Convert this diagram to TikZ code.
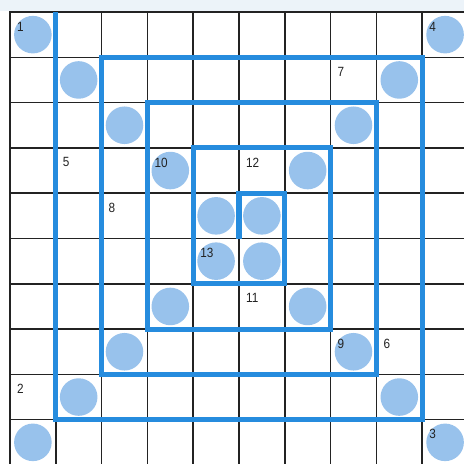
\documentclass[tikz,border=0pt]{standalone}
\usepackage{fontspec}
\setmainfont{Liberation Sans}
\definecolor{spiralblue}{RGB}{38,140,222}
\definecolor{dotblue}{RGB}{152,194,236}
\definecolor{gridgrey}{RGB}{35,35,35}
\definecolor{topstrip}{RGB}{236,243,249}
\begin{document}
\begin{tikzpicture}[x=1cm,y=-0.98908cm,
  gridline/.style={draw=gridgrey,line width=0.9pt},
  spiral/.style={draw=spiralblue,line width=3.2pt,line join=miter,line cap=butt},
  dot/.style={circle,fill=dotblue,minimum size=0.82cm,inner sep=0pt},
  num/.style={anchor=north west,inner sep=0pt,font=\fontsize{8.3}{9}\selectfont,text=gridgrey,xscale=0.88}]
\useasboundingbox (-0.218,-0.265) rectangle (9.913,9.978);
\fill[white] (-0.218,-0.265) rectangle (9.913,9.978);
\fill[topstrip] (-0.218,-0.265) rectangle (9.913,-0.02);
\begin{scope}
\clip (-0.218,-0.265) rectangle (9.913,9.978);
\foreach \i in {0,...,10} {
  \draw[gridline] (\i,0) -- (\i,10.2);
  \draw[gridline] (0,\i) -- (10.2,\i);
}
\draw[gridline,line width=1.2pt] (0,10.2) -- (0,0) -- (10.2,0);
\end{scope}
% circles
\foreach \c/\r [count=\k] in {0/0,9/0,1/1,8/1,2/2,7/2,3/3,6/3,4/4,5/4,4/5,5/5,3/6,6/6,2/7,7/7,1/8,8/8,0/9,9/9}
  \node[dot] (d\k) at (\c+0.5,\r+0.5) {};
% spiral
\coordinate (s0) at (1,0);
\coordinate (s1) at (5,5);
\draw[spiral] (s0) -- (1,9) -- (9,9) -- (9,1) -- (2,1) -- (2,8) -- (8,8) -- (8,2)
  -- (3,2) -- (3,7) -- (7,7) -- (7,3) -- (4,3) -- (4,6) -- (6,6) -- (6,4) -- (5,4) -- (s1);
% labels
\foreach \c/\r/\t in {0/0/1,0/8/2,9/9/3,9/0/4,1/3/5,8/7/6,7/1/7,2/4/8,7/7/9,3/3/10,5/6/11,5/3/12,4/5/13}
  \node[num] (n\t) at (\c+0.15,\r+0.21) {\t};
\end{tikzpicture}
\end{document}
